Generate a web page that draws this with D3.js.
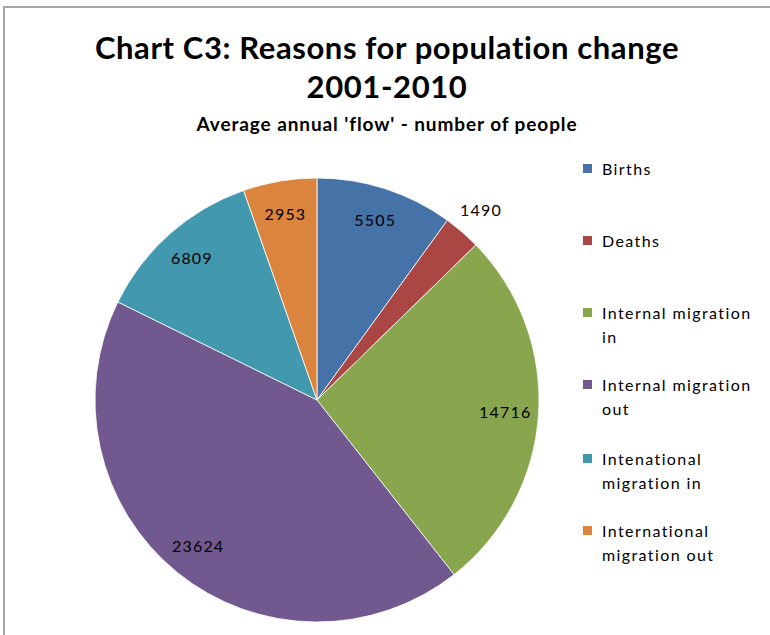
<!DOCTYPE html>
<html>
<head>
<meta charset="utf-8">
<script src="https://cdn.jsdelivr.net/npm/d3@7"></script>
<style>
  html, body { margin: 0; padding: 0; background: #fff; }
  svg { display: block; }
  text { font-family: Lato, "Open Sans", "DejaVu Sans", sans-serif; }
</style>
</head>
<body>
<svg id="chart" width="770" height="635"></svg>
<script>
// Average annual flows, 2001-2010
const categories = ["Births", "Deaths", "Internal migration in", "Internal migration out", "Intenational migration in", "International migration out"];
const legendLines = [["Births"], ["Deaths"], ["Internal migration", "in"], ["Internal migration", "out"], ["Intenational", "migration in"], ["International", "migration out"]];
const values = [5505, 1490, 14716, 23624, 6809, 2953];
const colors = ["#4572A7", "#AA4643", "#89A54E", "#71588F", "#4198AF", "#DB843D"];

const svg = d3.select("#chart");
const W = 770, H = 635;

// chart frame (left and top edges visible)
svg.append("path")
  .attr("d", `M4,${H} L4,7 L${W},7`)
  .attr("fill", "none")
  .attr("stroke", "#a6a6a6")
  .attr("stroke-width", 2);

// titles
svg.append("text").attr("x", 387).attr("y", 59).attr("text-anchor", "middle")
  .attr("font-size", 31).attr("font-weight", "bold").attr("fill", "#000")
  .attr("letter-spacing", 0.6)
  .text("Chart C3: Reasons for population change");
svg.append("text").attr("x", 387).attr("y", 98).attr("text-anchor", "middle")
  .attr("font-size", 31).attr("font-weight", "bold").attr("fill", "#000")
  .attr("letter-spacing", 0.6)
  .text("2001-2010");
svg.append("text").attr("x", 387).attr("y", 131).attr("text-anchor", "middle")
  .attr("font-size", 19).attr("font-weight", "bold").attr("fill", "#000")
  .attr("letter-spacing", 0.9)
  .text("Average annual 'flow' - number of people");

// pie
const cx = 317, cy = 400, R = 222;
const total = d3.sum(values);
const data = categories.map((c, i) => ({ name: c, value: values[i], color: colors[i] }));
const pie = d3.pie().value(d => d.value).sort(null);
const arcs = pie(data);
const arc = d3.arc().innerRadius(0).outerRadius(R);
const inLabel = d3.arc().innerRadius(R * 0.85).outerRadius(R * 0.85);
const outLabel = d3.arc().innerRadius(R * 1.13).outerRadius(R * 1.13);

const g = svg.append("g").attr("transform", `translate(${cx},${cy})`);
g.selectAll("path.slice").data(arcs).join("path")
  .attr("class", "slice")
  .attr("d", arc)
  .attr("fill", d => d.data.color)
  .attr("stroke", "#fff")
  .attr("stroke-width", 0.8);

g.selectAll("text.val").data(arcs).join("text")
  .attr("class", "val")
  .attr("transform", d => {
    const p = (d.data.value / total < 0.04 ? outLabel : inLabel).centroid(d);
    return `translate(${p[0]},${p[1]})`;
  })
  .attr("text-anchor", "middle")
  .attr("dy", "0.35em")
  .attr("font-size", 16)
  .attr("letter-spacing", 1.2)
  .attr("fill", "#000")
  .text(d => d.data.value);

// legend
const lg = svg.append("g").attr("transform", "translate(583,0)");
const rowY = [169, 241, 313, 385, 459, 531];
const item = lg.selectAll("g.item").data(data).join("g")
  .attr("class", "item")
  .attr("transform", (d, i) => `translate(0,${rowY[i]})`);
item.append("rect").attr("x", 0).attr("y", -5).attr("width", 9).attr("height", 9)
  .attr("fill", d => d.color);
item.append("text")
  .attr("x", 19).attr("y", 0)
  .attr("font-size", 16).attr("letter-spacing", 1.4).attr("fill", "#000")
  .selectAll("tspan").data((d, i) => legendLines[i]).join("tspan")
  .attr("x", 19).attr("dy", (t, j) => j === 0 ? "0.35em" : "1.55em")
  .text(t => t);
</script>
</body>
</html>
